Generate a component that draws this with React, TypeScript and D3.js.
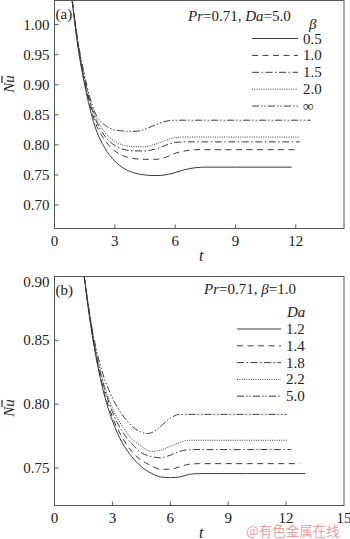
import React, { useEffect, useRef } from 'react';
import * as d3 from 'd3';

// panel (a): Pr=0.71, Da=5.0, varying beta
const betaLabels = ['0.5', '1.0', '1.5', '2.0', '\u221e'];
const betaSeries: [number, number][][] = [
  [[0.88, 1.04], [1.0, 1.005], [1.25, 0.945], [1.5, 0.9], [1.75, 0.862], [2.0, 0.832], [2.5, 0.795], [3.0, 0.773], [3.5, 0.76], [4.0, 0.753], [4.5, 0.75], [5.0, 0.749], [5.5, 0.75], [6.0, 0.754], [6.5, 0.759], [7.0, 0.762], [7.5, 0.763], [9.0, 0.763], [11.8, 0.763]],
  [[0.88, 1.04], [1.0, 1.007], [1.25, 0.948], [1.5, 0.904], [1.75, 0.868], [2.0, 0.84], [2.5, 0.808], [3.0, 0.79], [3.5, 0.781], [4.0, 0.777], [4.5, 0.776], [5.0, 0.776], [5.5, 0.779], [6.0, 0.786], [6.5, 0.79], [7.0, 0.792], [9.0, 0.792], [12.1, 0.792]],
  [[0.88, 1.04], [1.0, 1.008], [1.25, 0.95], [1.5, 0.907], [1.75, 0.872], [2.0, 0.846], [2.5, 0.815], [3.0, 0.799], [3.5, 0.792], [4.0, 0.79], [4.5, 0.79], [5.0, 0.793], [5.5, 0.799], [6.0, 0.804], [6.5, 0.805], [9.0, 0.805], [12.2, 0.805]],
  [[0.88, 1.04], [1.0, 1.009], [1.25, 0.952], [1.5, 0.909], [1.75, 0.875], [2.0, 0.85], [2.5, 0.821], [3.0, 0.806], [3.5, 0.799], [4.0, 0.797], [4.5, 0.797], [5.0, 0.801], [5.5, 0.807], [6.0, 0.812], [6.5, 0.813], [9.0, 0.813], [12.2, 0.813]],
  [[0.88, 1.04], [1.0, 1.01], [1.25, 0.956], [1.5, 0.915], [1.75, 0.88], [2.0, 0.855], [2.5, 0.833], [3.0, 0.825], [3.5, 0.823], [4.0, 0.8225], [4.5, 0.826], [5.0, 0.833], [5.5, 0.839], [6.0, 0.841], [9.0, 0.841], [12.75, 0.841]],
];

// panel (b): Pr=0.71, beta=1.0, varying Da
const daLabels = ['1.2', '1.4', '1.8', '2.2', '5.0'];
const daSeries: [number, number][][] = [
  [[1.54, 0.9], [1.75, 0.875], [2.0, 0.85], [2.5, 0.812], [3.0, 0.787], [3.5, 0.77], [4.0, 0.759], [4.5, 0.751], [5.0, 0.746], [5.5, 0.743], [6.0, 0.7424], [6.5, 0.743], [7.0, 0.745], [7.5, 0.7456], [10.0, 0.7456], [13.0, 0.7456]],
  [[1.54, 0.9], [1.75, 0.876], [2.0, 0.851], [2.5, 0.814], [3.0, 0.79], [3.5, 0.774], [4.0, 0.763], [4.5, 0.756], [5.0, 0.752], [5.5, 0.749], [6.0, 0.749], [6.5, 0.751], [7.0, 0.753], [7.5, 0.7534], [10.0, 0.7534], [12.7, 0.7534]],
  [[1.54, 0.9], [1.75, 0.877], [2.0, 0.852], [2.5, 0.817], [3.0, 0.794], [3.5, 0.779], [4.0, 0.769], [4.5, 0.762], [5.0, 0.759], [5.5, 0.758], [6.0, 0.76], [6.5, 0.763], [7.0, 0.7644], [10.0, 0.7644], [12.26, 0.7644]],
  [[1.54, 0.9], [1.75, 0.877], [2.0, 0.853], [2.5, 0.819], [3.0, 0.797], [3.5, 0.783], [4.0, 0.773], [4.5, 0.767], [5.0, 0.763], [5.5, 0.764], [6.0, 0.767], [6.5, 0.77], [7.0, 0.7717], [10.0, 0.7717], [12.03, 0.7717]],
  [[1.54, 0.9], [1.75, 0.878], [2.0, 0.855], [2.5, 0.824], [3.0, 0.805], [3.5, 0.792], [4.0, 0.783], [4.5, 0.778], [4.8, 0.777], [5.2, 0.779], [5.6, 0.784], [6.0, 0.789], [6.5, 0.792], [9.0, 0.792], [12.03, 0.792]],
];

const xTicksA = [0, 3, 6, 9, 12];
const yTicksA = [0.7, 0.75, 0.8, 0.85, 0.9, 0.95, 1.0];
const xTicksB = [0, 3, 6, 9, 12, 15];
const yTicksB = [0.75, 0.8, 0.85, 0.9];

const dashes = ['', '6,4.5', '7,2.5,1.5,2.5', '1,1.3', '7,2,1.5,2,1.5,2'];
const FONT = '"Liberation Serif", "Times New Roman", serif';
const INK = '#222';
const LINE = '#3a3a3a';

export default function App() {
  const ref = useRef<SVGSVGElement>(null);

  useEffect(() => {
    const svg = d3.select(ref.current);
    svg.selectAll('*').remove();

    const drawPanel = (opts: any) => {
      const { xDom, yDom, top, bottom, left, right, xTicks, yTicks, series, tag, title, legTitle, legTitleX, legTitleY, labels, legX1, legX2, legY0, legStep, nuY } = opts;
      const x = d3.scaleLinear().domain(xDom).range([left, right]);
      const y = d3.scaleLinear().domain(yDom).range([bottom, top]);
      const g = svg.append('g').attr('font-family', FONT);
      const clipId = 'clip-' + tag.replace(/[()]/g, '');
      g.append('clipPath').attr('id', clipId).append('rect')
        .attr('x', left).attr('y', top).attr('width', right - left).attr('height', bottom - top);

      const line = d3.line<[number, number]>().x(d => x(d[0])).y(d => y(d[1])).curve(d3.curveMonotoneX);
      series.forEach((s: [number, number][], i: number) => {
        g.append('path').attr('d', line(s)).attr('fill', 'none').attr('stroke', LINE)
          .attr('stroke-width', 1).attr('stroke-dasharray', dashes[i]).attr('clip-path', `url(#${clipId})`);
      });

      // frame
      g.append('rect').attr('x', left).attr('y', top).attr('width', right - left).attr('height', bottom - top)
        .attr('fill', 'none').attr('stroke', '#555').attr('stroke-width', 1);

      // ticks (inward)
      xTicks.forEach((t: number) => {
        if (x(t) > left + 1 && x(t) < right - 1)
          g.append('line').attr('x1', x(t)).attr('x2', x(t)).attr('y1', bottom).attr('y2', bottom - 4).attr('stroke', '#555');
        g.append('text').attr('x', x(t)).attr('y', bottom + 17).attr('text-anchor', 'middle')
          .attr('font-size', 15).attr('fill', INK).text(String(t));
      });
      yTicks.forEach((t: number) => {
        if (y(t) > top + 1 && y(t) < bottom - 1)
          g.append('line').attr('x1', left).attr('x2', left + 4).attr('y1', y(t)).attr('y2', y(t)).attr('stroke', '#555');
        const ty = Math.max(y(t) + 5, top + 10);
        g.append('text').attr('x', left - 5).attr('y', ty).attr('text-anchor', 'end')
          .attr('font-size', 15).attr('fill', INK).text(t.toFixed(2));
      });

      // axis titles
      g.append('text').attr('x', (left + right) / 2 + 2).attr('y', bottom + 32).attr('text-anchor', 'middle')
        .attr('font-size', 16).attr('font-style', 'italic').attr('fill', INK).text('t');
      const nu = g.append('g').attr('transform', `translate(14, ${nuY}) rotate(-90)`);
      nu.append('text').attr('x', 0).attr('y', 0).attr('text-anchor', 'middle')
        .attr('font-size', 15).attr('font-style', 'italic').attr('fill', INK).text('Nu');
      nu.append('line').attr('x1', 1).attr('x2', 8).attr('y1', -12).attr('y2', -12).attr('stroke', INK).attr('stroke-width', 1.2);

      // panel tag
      g.append('text').attr('x', left + 1).attr('y', top + 18).attr('font-size', 15).attr('fill', INK).text(tag);

      // parameter text
      const tt = g.append('text').attr('x', title.x).attr('y', title.y).attr('font-size', 15).attr('fill', INK);
      title.parts.forEach((p: [string, boolean]) => {
        tt.append('tspan').attr('font-style', p[1] ? 'italic' : 'normal').text(p[0]);
      });
      g.append('text').attr('x', legTitleX).attr('y', legTitleY).attr('font-size', 15)
        .attr('font-style', 'italic').attr('fill', INK).text(legTitle);

      labels.forEach((lab: string, i: number) => {
        const ly = legY0 + i * legStep;
        g.append('line').attr('x1', legX1).attr('x2', legX2).attr('y1', ly).attr('y2', ly)
          .attr('stroke', LINE).attr('stroke-width', 1).attr('stroke-dasharray', dashes[i]);
        g.append('text').attr('x', legX2 + 5).attr('y', ly + 5).attr('font-size', 15).attr('fill', INK).text(lab);
      });
    };

    drawPanel({
      xDom: [0, 14.4], yDom: [0.661, 1.04], top: 0.5, bottom: 228.5, left: 54.5, right: 344,
      xTicks: xTicksA, yTicks: yTicksA, series: betaSeries, tag: '(a)',
      title: { x: 188, y: 21, parts: [['Pr', true], ['=0.71, ', false], ['Da', true], ['=5.0', false]] },
      legTitle: '\u03b2', legTitleX: 309, legTitleY: 29, labels: betaLabels,
      legX1: 252, legX2: 298, legY0: 38.5, legStep: 16.9, nuY: 84,
    });

    drawPanel({
      xDom: [0, 15], yDom: [0.7206, 0.9], top: 276.5, bottom: 505.5, left: 54.5, right: 344,
      xTicks: xTicksB, yTicks: yTicksB, series: daSeries, tag: '(b)',
      title: { x: 204, y: 294, parts: [['Pr', true], ['=0.71, ', false], ['\u03b2', true], ['=1.0', false]] },
      legTitle: 'Da', legTitleX: 287, legTitleY: 317, labels: daLabels,
      legX1: 237, legX2: 281, legY0: 329, legStep: 16.8, nuY: 408,
    });

    svg.append('text').attr('x', 246).attr('y', 535.5).attr('font-size', 13.5)
      .attr('font-family', '"Noto Sans CJK SC", sans-serif').attr('fill', '#e89090').attr('opacity', 0.85)
      .text('@有色金属在线');
  }, []);

  return (
    <svg ref={ref} width={350} height={539}
      style={{ position: 'absolute', left: 0, top: 0, background: '#fff', fontFamily: FONT }} />
  );
}
